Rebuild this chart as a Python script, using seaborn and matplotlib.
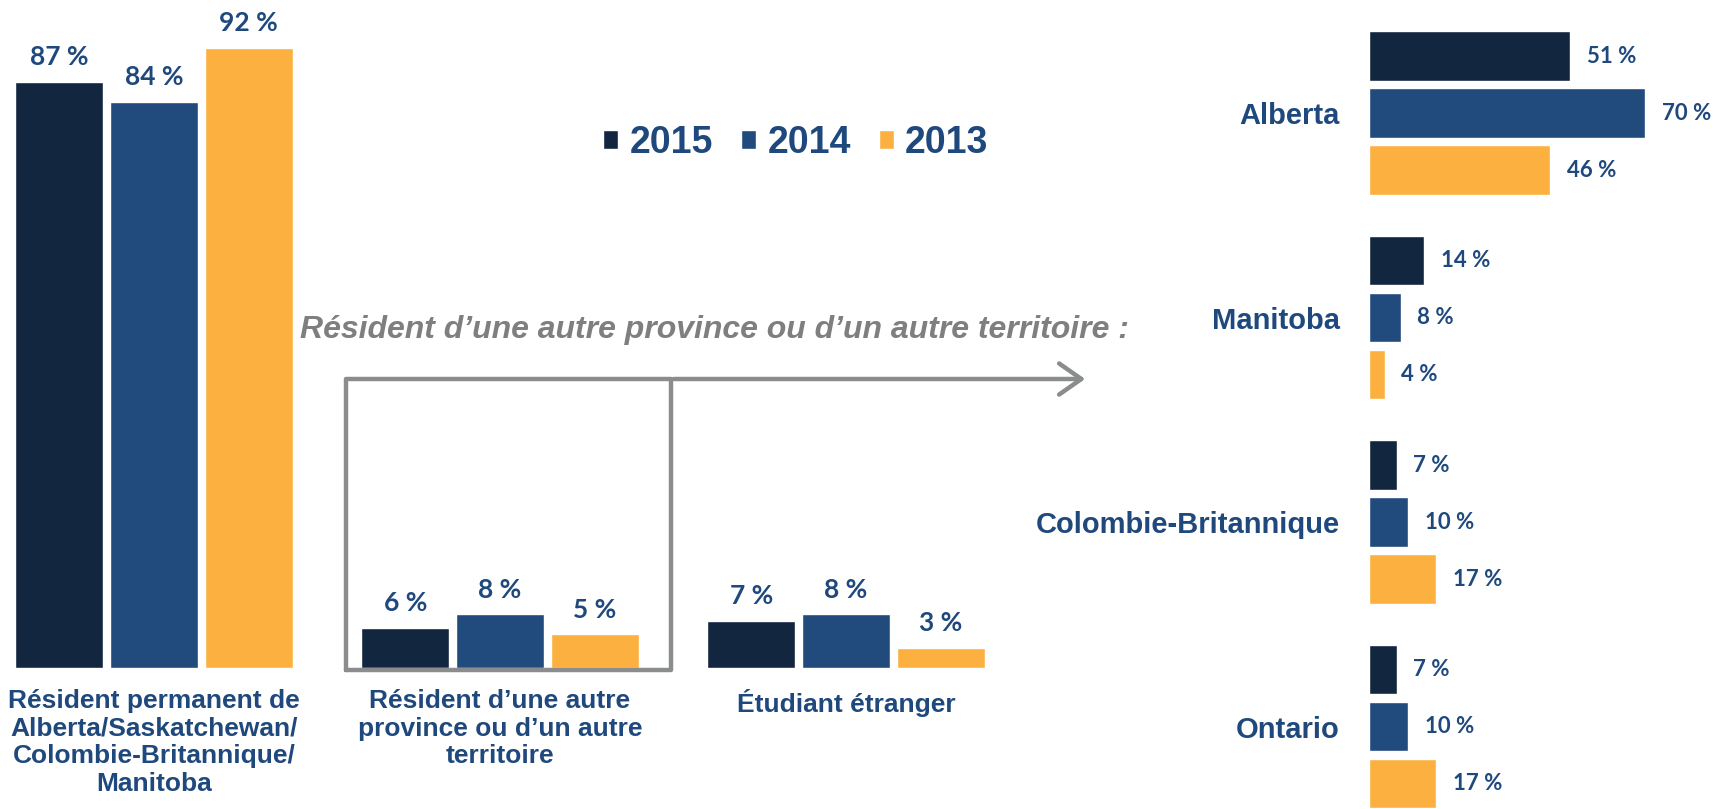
import matplotlib
matplotlib.use("Agg")
import matplotlib.pyplot as plt
from matplotlib.lines import Line2D
from matplotlib.patches import FancyArrowPatch
import pandas as pd
import seaborn as sns

# ----- donnees -----
categories = [
    "Résident permanent de\nAlberta/Saskatchewan/\nColombie-Britannique/\nManitoba",
    "Résident d’une autre\nprovince ou d’un autre\nterritoire",
    "Étudiant étranger",
]
years = ["2015", "2014", "2013"]
val_2015 = [87, 6, 7]
val_2014 = [84, 8, 8]
val_2013 = [92, 5, 3]

provinces = ["Alberta", "Manitoba", "Colombie-Britannique", "Ontario"]
prov_2015 = [51, 14, 7, 7]
prov_2014 = [70, 8, 10, 10]
prov_2013 = [46, 4, 17, 17]

palette = {"2015": "#13263F", "2014": "#214A7D", "2013": "#FBB040"}
NAVY = "#1F497D"
GRAY = "#8A8C8E"

sns.set_theme(style="white")
plt.rcParams["font.family"] = ["Liberation Sans", "DejaVu Sans"]

W, H = 1723, 809
fig = plt.figure(figsize=(W / 100, H / 100), dpi=100)


def fx(px):
    return px / W


def fy(py):
    return 1 - py / H


def long_table(cats, series, col):
    frames = []
    for yr, vals in zip(years, series):
        frames.append(pd.DataFrame({col: cats, "annee": yr, "valeur": vals}))
    return pd.concat(frames, ignore_index=True)


df_left = long_table(categories, [val_2015, val_2014, val_2013], "categorie")
df_right = long_table(provinces, [prov_2015, prov_2014, prov_2013], "province")

# ----- graphique de gauche -----
ax1 = fig.add_axes([0, fy(668), fx(1000), 640.3 / H])
sns.barplot(data=df_left, x="categorie", y="valeur", hue="annee", hue_order=years,
            palette=palette, width=0.82, gap=0.07, ax=ax1, saturation=1)
handles, labels = ax1.get_legend_handles_labels()
ax1.get_legend().remove()
for cont in ax1.containers:
    ax1.bar_label(cont, labels=[f"{v:g} %" for v in cont.datavalues], padding=9,
                  fontsize=19, fontweight="bold", color=NAVY, fontfamily=["Lato", "DejaVu Sans"])
ax1.set_xlim(-0.445, 2.445)
ax1.set_ylim(0, 95)
ax1.set_yticks([])
ax1.set_xlabel("")
ax1.set_ylabel("")
ax1.tick_params(axis="x", length=0, pad=15, labelsize=19, labelcolor=NAVY)
for lbl in ax1.get_xticklabels():
    lbl.set_fontweight("bold")
    lbl.set_linespacing(1.2)
sns.despine(ax=ax1, left=True, bottom=True)

# ----- graphique de droite -----
ax2 = fig.add_axes([fx(1369), 0, fx(354), 1])
sns.barplot(data=df_right, y="province", x="valeur", hue="annee", hue_order=years,
            palette=palette, orient="h", width=0.836, gap=0.13, ax=ax2, saturation=1,
            legend=False)
for cont in ax2.containers:
    ax2.bar_label(cont, labels=[f"{v:g} %" for v in cont.datavalues], padding=12,
                  fontsize=16, fontweight="bold", color=NAVY, fontfamily=["Lato", "DejaVu Sans"])
ax2.set_xlim(0, 89.8)
ax2.set_ylim(3.403, -0.553)
ax2.set_xticks([])
ax2.set_xlabel("")
ax2.set_ylabel("")
ax2.tick_params(axis="y", length=0, pad=21, labelsize=21, labelcolor=NAVY)
for lbl in ax2.get_yticklabels():
    lbl.set_fontweight("bold")
sns.despine(ax=ax2, left=True, bottom=True)

# ----- legende -----
fig.legend(handles, labels, loc="center", bbox_to_anchor=(fx(796), fy(143)), ncol=3,
           frameon=False, prop={"weight": "bold", "size": 27}, labelcolor=NAVY,
           handlelength=0.4, handleheight=0.4, handletextpad=0.3, columnspacing=0.75)

# ----- encadre + fleche -----
fig.text(fx(300), fy(330), "Résident d’une autre province ou d’un autre territoire :",
         ha="left", va="center", fontsize=23, fontweight="bold", fontstyle="italic", color="#7F7F7F")
fig.add_artist(Line2D([fx(346), fx(346), fx(671), fx(671), fx(346)],
                      [fy(670), fy(379), fy(379), fy(670), fy(670)],
                      color=GRAY, lw=3.2, transform=fig.transFigure))
fig.add_artist(FancyArrowPatch((fx(671), fy(379)), (fx(1088), fy(379)), transform=fig.transFigure,
                               arrowstyle="->,head_length=0.4,head_width=0.28", mutation_scale=40,
                               color=GRAY, lw=3.2))

fig.savefig("out.png", dpi=100)
